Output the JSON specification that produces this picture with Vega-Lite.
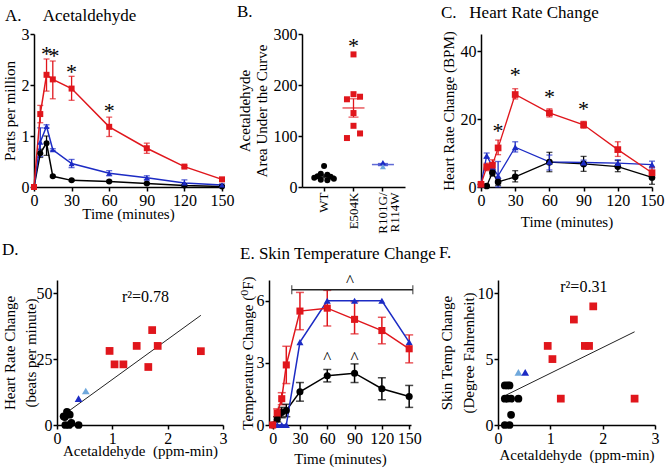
{
  "$schema": "https://vega.github.io/schema/vega-lite/v6.json",
  "padding": {"left": 2, "top": 3, "right": 2, "bottom": 2},
  "background": "white",
  "config": {
    "font": "Liberation Serif, Times New Roman, DejaVu Serif, serif",
    "view": {"stroke": null},
    "axis": {"grid": false, "labelFlush": false, "domainColor": "#000", "domainWidth": 1.5, "tickColor": "#000", "tickWidth": 1.5, "tickSize": 4, "labelFont": "Liberation Serif, Times New Roman, DejaVu Serif, serif", "labelFontSize": 16, "labelColor": "#000", "labelPadding": 1, "titleFont": "Liberation Serif, Times New Roman, DejaVu Serif, serif", "titleFontSize": 15, "titleFontWeight": 400, "titleColor": "#000", "titlePadding": 4},
    "title": {"font": "Liberation Serif, Times New Roman, DejaVu Serif, serif", "fontSize": 17, "fontWeight": 400, "color": "#000", "anchor": "start", "frame": "bounds"},
    "text": {"font": "Liberation Serif, Times New Roman, DejaVu Serif, serif"}
  },
  "datasets": {
    "acet": [
      {"grp": "WT", "t": 0, "y": 0, "lo": 0, "hi": 0},
      {"grp": "WT", "t": 5, "y": 0.66, "lo": 0.58, "hi": 0.74},
      {"grp": "WT", "t": 10, "y": 0.86, "lo": 0.62, "hi": 1.0},
      {"grp": "WT", "t": 15, "y": 0.21, "lo": 0.19, "hi": 0.23},
      {"grp": "WT", "t": 30, "y": 0.13, "lo": 0.11, "hi": 0.15},
      {"grp": "WT", "t": 60, "y": 0.11, "lo": 0.09, "hi": 0.13},
      {"grp": "WT", "t": 90, "y": 0.07, "lo": 0.05, "hi": 0.09},
      {"grp": "WT", "t": 120, "y": 0.03, "lo": 0.02, "hi": 0.04},
      {"grp": "WT", "t": 150, "y": 0.01, "lo": 0.0, "hi": 0.02},
      {"grp": "R101G/R114W", "t": 0, "y": 0, "lo": 0, "hi": 0},
      {"grp": "R101G/R114W", "t": 5, "y": 0.88, "lo": 0.6, "hi": 1.16},
      {"grp": "R101G/R114W", "t": 10, "y": 1.19, "lo": 1.16, "hi": 1.22},
      {"grp": "R101G/R114W", "t": 15, "y": 0.73, "lo": 0.71, "hi": 0.75},
      {"grp": "R101G/R114W", "t": 30, "y": 0.46, "lo": 0.38, "hi": 0.54},
      {"grp": "R101G/R114W", "t": 60, "y": 0.27, "lo": 0.22, "hi": 0.32},
      {"grp": "R101G/R114W", "t": 90, "y": 0.18, "lo": 0.14, "hi": 0.22},
      {"grp": "R101G/R114W", "t": 120, "y": 0.08, "lo": 0.02, "hi": 0.14},
      {"grp": "R101G/R114W", "t": 150, "y": 0.04, "lo": 0.02, "hi": 0.06},
      {"grp": "E504K", "t": 0, "y": 0, "lo": 0, "hi": 0},
      {"grp": "E504K", "t": 5, "y": 1.43, "lo": 1.26, "hi": 1.6},
      {"grp": "E504K", "t": 10, "y": 2.2, "lo": 1.88, "hi": 2.51},
      {"grp": "E504K", "t": 15, "y": 2.11, "lo": 1.73, "hi": 2.47},
      {"grp": "E504K", "t": 30, "y": 1.93, "lo": 1.7, "hi": 2.17},
      {"grp": "E504K", "t": 60, "y": 1.18, "lo": 0.99, "hi": 1.37},
      {"grp": "E504K", "t": 90, "y": 0.76, "lo": 0.66, "hi": 0.86},
      {"grp": "E504K", "t": 120, "y": 0.4, "lo": 0.38, "hi": 0.42},
      {"grp": "E504K", "t": 150, "y": 0.15, "lo": 0.13, "hi": 0.17}
    ],
    "hr": [
      {"grp": "WT", "t": 0, "y": 0.8, "lo": 0.5, "hi": 1.1},
      {"grp": "WT", "t": 5, "y": 0.3, "lo": 0.0, "hi": 0.6},
      {"grp": "WT", "t": 10, "y": 4.2, "lo": 3.2, "hi": 5.2},
      {"grp": "WT", "t": 15, "y": 1.5, "lo": 0.5, "hi": 2.5},
      {"grp": "WT", "t": 30, "y": 3.0, "lo": 1.5, "hi": 4.8},
      {"grp": "WT", "t": 60, "y": 7.3, "lo": 4.5, "hi": 10.2},
      {"grp": "WT", "t": 90, "y": 6.8, "lo": 4.6, "hi": 9.0},
      {"grp": "WT", "t": 120, "y": 6.0, "lo": 4.5, "hi": 7.8},
      {"grp": "WT", "t": 150, "y": 2.8, "lo": 0.8, "hi": 4.8},
      {"grp": "R101G/R114W", "t": 0, "y": 0.8, "lo": 0.8, "hi": 0.8},
      {"grp": "R101G/R114W", "t": 5, "y": 9.2, "lo": 8.5, "hi": 10.0},
      {"grp": "R101G/R114W", "t": 10, "y": 6.0, "lo": 5.0, "hi": 7.0},
      {"grp": "R101G/R114W", "t": 15, "y": 3.3, "lo": 0.0, "hi": 7.5},
      {"grp": "R101G/R114W", "t": 30, "y": 11.7, "lo": 10.3, "hi": 13.3},
      {"grp": "R101G/R114W", "t": 60, "y": 7.4, "lo": 5.0, "hi": 9.4},
      {"grp": "R101G/R114W", "t": 90, "y": 7.2, "lo": 6.5, "hi": 7.9},
      {"grp": "R101G/R114W", "t": 120, "y": 7.0, "lo": 6.0, "hi": 8.0},
      {"grp": "R101G/R114W", "t": 150, "y": 6.6, "lo": 5.6, "hi": 7.6},
      {"grp": "E504K", "t": 0, "y": 0.8, "lo": 0.8, "hi": 0.8},
      {"grp": "E504K", "t": 5, "y": 5.9, "lo": 4.8, "hi": 7.0},
      {"grp": "E504K", "t": 10, "y": 6.4, "lo": 5.0, "hi": 8.0},
      {"grp": "E504K", "t": 15, "y": 11.5, "lo": 9.5, "hi": 13.8},
      {"grp": "E504K", "t": 30, "y": 27.2, "lo": 25.9, "hi": 28.9},
      {"grp": "E504K", "t": 60, "y": 21.8, "lo": 20.6, "hi": 23.0},
      {"grp": "E504K", "t": 90, "y": 18.3, "lo": 17.3, "hi": 19.3},
      {"grp": "E504K", "t": 120, "y": 11.0, "lo": 9.0, "hi": 13.3},
      {"grp": "E504K", "t": 150, "y": 4.2, "lo": 2.4, "hi": 5.8}
    ],
    "temp": [
      {"grp": "WT", "t": 0, "y": 0, "lo": 0, "hi": 0},
      {"grp": "WT", "t": 5, "y": 0.28, "lo": 0.15, "hi": 0.4},
      {"grp": "WT", "t": 10, "y": 0.6, "lo": 0.35, "hi": 0.85},
      {"grp": "WT", "t": 15, "y": 0.7, "lo": 0.4, "hi": 1.0},
      {"grp": "WT", "t": 30, "y": 1.6, "lo": 1.15, "hi": 2.05},
      {"grp": "WT", "t": 60, "y": 2.38, "lo": 2.08, "hi": 2.68},
      {"grp": "WT", "t": 90, "y": 2.5, "lo": 2.05, "hi": 2.95},
      {"grp": "WT", "t": 120, "y": 1.75, "lo": 1.22, "hi": 2.28},
      {"grp": "WT", "t": 150, "y": 1.38, "lo": 0.85, "hi": 1.91},
      {"grp": "R101G/R114W", "t": 0, "y": 0, "lo": 0, "hi": 0},
      {"grp": "R101G/R114W", "t": 5, "y": 0, "lo": 0, "hi": 0},
      {"grp": "R101G/R114W", "t": 10, "y": 0, "lo": 0, "hi": 0},
      {"grp": "R101G/R114W", "t": 15, "y": 0, "lo": 0, "hi": 0},
      {"grp": "R101G/R114W", "t": 30, "y": 4, "lo": 4, "hi": 4},
      {"grp": "R101G/R114W", "t": 60, "y": 6, "lo": 6, "hi": 6},
      {"grp": "R101G/R114W", "t": 90, "y": 6, "lo": 6, "hi": 6},
      {"grp": "R101G/R114W", "t": 120, "y": 6, "lo": 6, "hi": 6},
      {"grp": "R101G/R114W", "t": 150, "y": 4, "lo": 4, "hi": 4},
      {"grp": "E504K", "t": 0, "y": 0, "lo": 0, "hi": 0},
      {"grp": "E504K", "t": 5, "y": 0.58, "lo": 0.4, "hi": 0.78},
      {"grp": "E504K", "t": 10, "y": 1.27, "lo": 0.98, "hi": 1.56},
      {"grp": "E504K", "t": 15, "y": 2.9, "lo": 2.0, "hi": 3.8},
      {"grp": "E504K", "t": 30, "y": 5.5, "lo": 4.6, "hi": 6.4},
      {"grp": "E504K", "t": 60, "y": 5.64, "lo": 4.78, "hi": 6.5},
      {"grp": "E504K", "t": 90, "y": 5.1, "lo": 4.4, "hi": 5.95},
      {"grp": "E504K", "t": 120, "y": 4.56, "lo": 3.92, "hi": 5.2},
      {"grp": "E504K", "t": 150, "y": 3.68, "lo": 3.0, "hi": 4.35}
    ],
    "auc": [
      {"genotype": "WT", "grp": "WT", "rep": 5, "v": 41},
      {"genotype": "WT", "grp": "WT", "rep": 4, "v": 26},
      {"genotype": "WT", "grp": "WT", "rep": 6, "v": 24},
      {"genotype": "WT", "grp": "WT", "rep": 3, "v": 21},
      {"genotype": "WT", "grp": "WT", "rep": 7, "v": 20},
      {"genotype": "WT", "grp": "WT", "rep": 2, "v": 18},
      {"genotype": "WT", "grp": "WT", "rep": 8, "v": 16},
      {"genotype": "WT", "grp": "WT", "rep": 4, "v": 14},
      {"genotype": "WT", "grp": "WT", "rep": 6, "v": 13},
      {"genotype": "E504K", "grp": "E504K", "rep": 5, "v": 260},
      {"genotype": "E504K", "grp": "E504K", "rep": 5, "v": 182},
      {"genotype": "E504K", "grp": "E504K", "rep": 7, "v": 177},
      {"genotype": "E504K", "grp": "E504K", "rep": 3, "v": 172},
      {"genotype": "E504K", "grp": "E504K", "rep": 5, "v": 145},
      {"genotype": "E504K", "grp": "E504K", "rep": 5, "v": 120},
      {"genotype": "E504K", "grp": "E504K", "rep": 3, "v": 96},
      {"genotype": "E504K", "grp": "E504K", "rep": 7, "v": 105},
      {"genotype": "R101G/R114W", "grp": "R101G", "rep": 5, "v": 48},
      {"genotype": "R101G/R114W", "grp": "R114W", "rep": 5, "v": 40}
    ],
    "aucsum": [
      {"genotype": "WT", "grp": "WT", "mean": 21, "lo": 18, "hi": 24},
      {"genotype": "E504K", "grp": "E504K", "mean": 155, "lo": 137, "hi": 173},
      {"genotype": "R101G/R114W", "grp": "R101G/R114W", "mean": 44, "lo": 42, "hi": 46}
    ],
    "hrsc": [
      {"grp": "E504K", "x": 0.95, "y": 28.1},
      {"grp": "E504K", "x": 1.04, "y": 23},
      {"grp": "E504K", "x": 1.2, "y": 23},
      {"grp": "E504K", "x": 1.44, "y": 30},
      {"grp": "E504K", "x": 1.65, "y": 22},
      {"grp": "E504K", "x": 1.72, "y": 36},
      {"grp": "E504K", "x": 1.82, "y": 30},
      {"grp": "E504K", "x": 2.6, "y": 28},
      {"grp": "R101G", "x": 0.39, "y": 10},
      {"grp": "R114W", "x": 0.52, "y": 12.9},
      {"grp": "WT", "x": 0.12, "y": 3.3},
      {"grp": "WT", "x": 0.18, "y": 5},
      {"grp": "WT", "x": 0.23, "y": 3.9},
      {"grp": "WT", "x": 0.15, "y": 0},
      {"grp": "WT", "x": 0.22, "y": 0},
      {"grp": "WT", "x": 0.26, "y": 0.8},
      {"grp": "WT", "x": 0.39, "y": 0},
      {"grp": "WT", "x": 0.14, "y": 3.0}
    ],
    "tempsc": [
      {"grp": "E504K", "x": 0.95, "y": 6},
      {"grp": "E504K", "x": 1.04, "y": 5},
      {"grp": "E504K", "x": 1.2, "y": 2},
      {"grp": "E504K", "x": 1.45, "y": 8},
      {"grp": "E504K", "x": 1.66, "y": 6},
      {"grp": "E504K", "x": 1.74, "y": 6},
      {"grp": "E504K", "x": 1.82, "y": 9},
      {"grp": "E504K", "x": 2.61, "y": 2},
      {"grp": "R114W", "x": 0.39, "y": 4},
      {"grp": "R101G", "x": 0.52, "y": 4},
      {"grp": "WT", "x": 0.13, "y": 3},
      {"grp": "WT", "x": 0.18, "y": 3},
      {"grp": "WT", "x": 0.22, "y": 3},
      {"grp": "WT", "x": 0.13, "y": 2},
      {"grp": "WT", "x": 0.19, "y": 2},
      {"grp": "WT", "x": 0.25, "y": 2},
      {"grp": "WT", "x": 0.39, "y": 2},
      {"grp": "WT", "x": 0.25, "y": 0.77},
      {"grp": "WT", "x": 0.13, "y": 0},
      {"grp": "WT", "x": 0.22, "y": 0}
    ]
  },
  "spacing": 7,
  "vconcat": [
    {
      "spacing": 3,
      "hconcat": [
        {
          "width": 188, "height": 153,
          "title": {"text": "A.\u00a0\u00a0\u00a0\u00a0\u00a0Acetaldehyde", "offset": 1, "frame": "group", "dx": -29},
          "data": {"name": "acet"},
          "encoding": {
            "x": {"field": "t", "type": "quantitative", "title": "Time (minutes)", "scale": {"domain": [0, 150]}, "axis": {"values": [0, 30, 60, 90, 120, 150], "format": "d", "titlePadding": -2}},
            "color": {"field": "grp", "type": "nominal", "scale": {"domain": ["WT", "E504K", "R101G/R114W", "R101G", "R114W"], "range": ["#000000", "#e0161c", "#1c2bc4", "#1c2bc4", "#6fa8dc"]}, "legend": null}
          },
          "layer": [
            {"transform": [{"filter": "datum.hi > datum.lo"}], "mark": {"type": "rule", "strokeWidth": 1.3}, "encoding": {"y": {"field": "lo", "type": "quantitative", "title": "Parts per million", "scale": {"domain": [0, 3]}, "axis": {"values": [0, 1, 2, 3], "format": "d"}}, "y2": {"field": "hi"}}},
            {"transform": [{"filter": "datum.hi > datum.lo"}], "mark": {"type": "tick", "orient": "horizontal", "size": 6, "thickness": 1.3}, "encoding": {"y": {"field": "lo", "type": "quantitative", "title": "Parts per million"}}},
            {"transform": [{"filter": "datum.hi > datum.lo"}], "mark": {"type": "tick", "orient": "horizontal", "size": 6, "thickness": 1.3}, "encoding": {"y": {"field": "hi", "type": "quantitative", "title": "Parts per million"}}},
            {"mark": {"type": "line", "strokeWidth": 1.5}, "encoding": {"y": {"field": "y", "type": "quantitative", "title": "Parts per million"}}},
            {"mark": {"type": "point", "filled": true, "size": 36, "opacity": 1}, "encoding": {"y": {"field": "y", "type": "quantitative", "title": "Parts per million"}, "shape": {"field": "grp", "type": "nominal", "scale": {"domain": ["WT", "E504K", "R101G/R114W", "R101G", "R114W"], "range": ["circle", "square", "triangle-up", "triangle-up", "triangle-up"]}, "legend": null}}},
            {"data": {"values": [{"t": 10, "y": 2.6}, {"t": 16, "y": 2.56}, {"t": 30, "y": 2.26}, {"t": 60, "y": 1.5}]}, "mark": {"type": "text", "text": "*", "fontSize": 22, "baseline": "middle"}, "encoding": {"y": {"field": "y", "type": "quantitative", "title": "Parts per million"}, "color": {"value": "#000"}}}
          ]
        },
        {
          "spacing": 35,
          "hconcat": [
            {
              "width": 103, "height": 153,
              "title": {"text": "B.", "offset": 5},
              "layer": [
                {"data": {"name": "aucsum"}, "mark": {"type": "tick", "orient": "horizontal", "size": 22, "thickness": 1.5}, "encoding": {
                  "x": {"field": "genotype", "type": "nominal", "scale": {"domain": ["WT", "E504K", "R101G/R114W"], "paddingInner": 0, "paddingOuter": 0.25}, "axis": {"title": null, "labelAngle": -90, "labelFontSize": 13, "labelExpr": "datum.label == 'R101G/R114W' ? ['R101G/', 'R114W'] : datum.label", "labelLineHeight": 12}},
                  "y": {"field": "mean", "type": "quantitative", "title": ["Acetaldehyde", "Area Under the Curve"], "scale": {"domain": [0, 300]}, "axis": {"values": [0, 100, 200, 300], "format": "d", "titleLineHeight": 17}},
                  "color": {"field": "grp", "type": "nominal", "legend": null}}},
                {"data": {"name": "aucsum"}, "mark": {"type": "rule", "strokeWidth": 1.3}, "encoding": {
                  "x": {"field": "genotype", "type": "nominal"},
                  "y": {"field": "lo", "type": "quantitative", "title": ["Acetaldehyde", "Area Under the Curve"]}, "y2": {"field": "hi"},
                  "color": {"field": "grp", "type": "nominal", "legend": null}}},
                {"data": {"name": "aucsum"}, "mark": {"type": "tick", "orient": "horizontal", "size": 10, "thickness": 1.3}, "encoding": {
                  "x": {"field": "genotype", "type": "nominal"},
                  "y": {"field": "lo", "type": "quantitative", "title": ["Acetaldehyde", "Area Under the Curve"]},
                  "color": {"field": "grp", "type": "nominal", "legend": null}}},
                {"data": {"name": "aucsum"}, "mark": {"type": "tick", "orient": "horizontal", "size": 10, "thickness": 1.3}, "encoding": {
                  "x": {"field": "genotype", "type": "nominal"},
                  "y": {"field": "hi", "type": "quantitative", "title": ["Acetaldehyde", "Area Under the Curve"]},
                  "color": {"field": "grp", "type": "nominal", "legend": null}}},
                {"data": {"name": "auc"}, "mark": {"type": "point", "filled": true, "size": 36, "opacity": 1}, "encoding": {
                  "x": {"field": "genotype", "type": "nominal"},
                  "xOffset": {"field": "rep", "type": "nominal", "scale": {"domain": [1, 2, 3, 4, 5, 6, 7, 8, 9]}},
                  "y": {"field": "v", "type": "quantitative", "title": ["Acetaldehyde", "Area Under the Curve"]},
                  "color": {"field": "grp", "type": "nominal", "legend": null},
                  "shape": {"field": "grp", "type": "nominal", "legend": null}}},
                {"data": {"values": [{"genotype": "E504K", "v": 277}]}, "mark": {"type": "text", "text": "*", "fontSize": 22, "baseline": "middle"}, "encoding": {
                  "x": {"field": "genotype", "type": "nominal"},
                  "y": {"field": "v", "type": "quantitative", "title": ["Acetaldehyde", "Area Under the Curve"]},
                  "color": {"value": "#000"}}}
              ]
            },
            {
              "width": 171, "height": 153,
              "title": {"text": "C.\u00a0\u00a0\u00a0Heart Rate Change", "offset": 9},
              "data": {"name": "hr"},
              "encoding": {
                "x": {"field": "t", "type": "quantitative", "title": "Time (minutes)", "scale": {"domain": [0, 150]}, "axis": {"values": [0, 30, 60, 90, 120, 150], "format": "d", "titlePadding": 6}},
                "color": {"field": "grp", "type": "nominal", "legend": null}
              },
              "layer": [
                {"transform": [{"filter": "datum.hi > datum.lo"}], "mark": {"type": "rule", "strokeWidth": 1.3}, "encoding": {"y": {"field": "lo", "type": "quantitative", "title": "Heart Rate Change (BPM)", "scale": {"domain": [0, 42.8]}, "axis": {"values": [0, 20, 40], "format": "d"}}, "y2": {"field": "hi"}}},
                {"transform": [{"filter": "datum.hi > datum.lo"}], "mark": {"type": "tick", "orient": "horizontal", "size": 6, "thickness": 1.3}, "encoding": {"y": {"field": "lo", "type": "quantitative", "title": "Heart Rate Change (BPM)"}}},
                {"transform": [{"filter": "datum.hi > datum.lo"}], "mark": {"type": "tick", "orient": "horizontal", "size": 6, "thickness": 1.3}, "encoding": {"y": {"field": "hi", "type": "quantitative", "title": "Heart Rate Change (BPM)"}}},
                {"mark": {"type": "line", "strokeWidth": 1.3}, "encoding": {"y": {"field": "y", "type": "quantitative", "title": "Heart Rate Change (BPM)"}}},
                {"mark": {"type": "point", "filled": true, "size": 45, "opacity": 1}, "encoding": {"y": {"field": "y", "type": "quantitative", "title": "Heart Rate Change (BPM)"}, "shape": {"field": "grp", "type": "nominal", "legend": null}}},
                {"data": {"values": [{"t": 15, "y": 16.4}, {"t": 30, "y": 32.8}, {"t": 60, "y": 26.6}, {"t": 90, "y": 23}]}, "mark": {"type": "text", "text": "*", "fontSize": 22, "baseline": "middle"}, "encoding": {"y": {"field": "y", "type": "quantitative", "title": "Heart Rate Change (BPM)"}, "color": {"value": "#000"}}}
              ]
            }
          ]
        }
      ]
    },
    {
      "spacing": -33,
      "hconcat": [
        {"width": 1, "height": 1, "data": {"values": []}, "mark": "point"},
        {
          "spacing": 12,
          "hconcat": [
            {
              "width": 166, "height": 145,
              "title": {"text": "D.", "offset": 21},
              "layer": [
                {"data": {"values": [{"x": 0.18, "y": 4.8}, {"x": 2.6, "y": 41.6}]}, "mark": {"type": "line", "strokeWidth": 1, "color": "#222"}, "encoding": {
                  "x": {"field": "x", "type": "quantitative", "title": "Acetaldehyde\u00a0\u00a0(ppm-min)", "scale": {"domain": [0, 3]}, "axis": {"values": [0, 1, 2, 3], "format": "d", "titlePadding": -3}},
                  "y": {"field": "y", "type": "quantitative", "title": ["Heart Rate Change", "(beats per minute)"], "scale": {"domain": [0, 52.5]}, "axis": {"values": [0, 25, 50], "format": "d", "titleLineHeight": 21, "titlePadding": -2}}}},
                {"data": {"name": "hrsc"}, "mark": {"type": "point", "filled": true, "size": 60, "opacity": 1}, "encoding": {
                  "x": {"field": "x", "type": "quantitative", "title": "Acetaldehyde\u00a0\u00a0(ppm-min)"},
                  "y": {"field": "y", "type": "quantitative", "title": ["Heart Rate Change", "(beats per minute)"]},
                  "color": {"field": "grp", "type": "nominal", "legend": null},
                  "shape": {"field": "grp", "type": "nominal", "legend": null}}},
                {"data": {"values": [{"x": 1.6, "y": 48.5, "label": "r²=0.78"}]}, "mark": {"type": "text", "fontSize": 16, "baseline": "middle", "color": "#000"}, "encoding": {
                  "x": {"field": "x", "type": "quantitative", "title": "Acetaldehyde\u00a0\u00a0(ppm-min)"},
                  "y": {"field": "y", "type": "quantitative", "title": ["Heart Rate Change", "(beats per minute)"]},
                  "text": {"field": "label"}}}
              ]
            },
            {
              "spacing": 1,
              "hconcat": [
                {
                  "width": 142, "height": 145,
                  "title": {"text": "E. Skin Temperature Change", "offset": 9},
                  "encoding": {
                    "x": {"field": "t", "type": "quantitative", "title": "Time (minutes)", "scale": {"domain": [-4, 152]}, "axis": {"values": [0, 30, 60, 90, 120, 150], "format": "d", "titlePadding": 5}}
                  },
                  "layer": [
                    {"data": {"name": "temp"}, "transform": [{"filter": "datum.hi > datum.lo"}], "mark": {"type": "rule", "strokeWidth": 1.5}, "encoding": {"y": {"field": "lo", "type": "quantitative", "title": "Temperature Change (⁰F)", "scale": {"domain": [0, 6.6]}, "axis": {"values": [0, 3, 6], "format": "d", "titlePadding": 1}}, "y2": {"field": "hi"}, "color": {"field": "grp", "type": "nominal", "legend": null}}},
                    {"data": {"name": "temp"}, "transform": [{"filter": "datum.hi > datum.lo"}], "mark": {"type": "tick", "orient": "horizontal", "size": 8, "thickness": 1.5}, "encoding": {"y": {"field": "lo", "type": "quantitative", "title": "Temperature Change (⁰F)"}, "color": {"field": "grp", "type": "nominal", "legend": null}}},
                    {"data": {"name": "temp"}, "transform": [{"filter": "datum.hi > datum.lo"}], "mark": {"type": "tick", "orient": "horizontal", "size": 8, "thickness": 1.5}, "encoding": {"y": {"field": "hi", "type": "quantitative", "title": "Temperature Change (⁰F)"}, "color": {"field": "grp", "type": "nominal", "legend": null}}},
                    {"data": {"name": "temp"}, "mark": {"type": "line", "strokeWidth": 1.5}, "encoding": {"y": {"field": "y", "type": "quantitative", "title": "Temperature Change (⁰F)"}, "color": {"field": "grp", "type": "nominal", "legend": null}}},
                    {"data": {"name": "temp"}, "mark": {"type": "point", "filled": true, "size": 50, "opacity": 1}, "encoding": {"y": {"field": "y", "type": "quantitative", "title": "Temperature Change (⁰F)"}, "color": {"field": "grp", "type": "nominal", "legend": null}, "shape": {"field": "grp", "type": "nominal", "legend": null}}},
                    {"data": {"values": [{"t": 21, "t2": 154, "y": 6.53}]}, "mark": {"type": "rule", "strokeWidth": 1.3, "color": "#222"}, "encoding": {"x2": {"field": "t2"}, "y": {"field": "y", "type": "quantitative", "title": "Temperature Change (⁰F)"}}},
                    {"data": {"values": [{"t": 21, "y": 6.53}, {"t": 154, "y": 6.53}]}, "mark": {"type": "tick", "orient": "vertical", "size": 9, "thickness": 1.3, "color": "#222"}, "encoding": {"y": {"field": "y", "type": "quantitative", "title": "Temperature Change (⁰F)"}}},
                    {"data": {"values": [{"t": 60, "y": 3.25}, {"t": 90, "y": 3.25}, {"t": 85, "y": 6.95}]}, "mark": {"type": "text", "text": "^", "fontSize": 17, "baseline": "middle", "color": "#000"}, "encoding": {"y": {"field": "y", "type": "quantitative", "title": "Temperature Change (⁰F)"}}}
                  ]
                },
                {
                  "width": 157, "height": 145,
                  "title": {"text": "F.", "offset": 17},
                  "layer": [
                    {"data": {"values": [{"x": 0.13, "y": 2.22}, {"x": 2.61, "y": 7.07}]}, "mark": {"type": "line", "strokeWidth": 1, "color": "#222"}, "encoding": {
                      "x": {"field": "x", "type": "quantitative", "title": "Acetaldehyde\u00a0\u00a0(ppm-min)", "scale": {"domain": [0, 3]}, "axis": {"values": [0, 1, 2, 3], "format": "d", "titlePadding": 1}},
                      "y": {"field": "y", "type": "quantitative", "title": ["Skin Temp Change", "(Degree Fahrenheit)"], "scale": {"domain": [0, 10.2]}, "axis": {"values": [0, 5, 10], "format": "d", "titleLineHeight": 22, "titlePadding": 1}}}},
                    {"data": {"name": "tempsc"}, "mark": {"type": "point", "filled": true, "size": 60, "opacity": 1}, "encoding": {
                      "x": {"field": "x", "type": "quantitative", "title": "Acetaldehyde\u00a0\u00a0(ppm-min)"},
                      "y": {"field": "y", "type": "quantitative", "title": ["Skin Temp Change", "(Degree Fahrenheit)"]},
                      "color": {"field": "grp", "type": "nominal", "legend": null},
                      "shape": {"field": "grp", "type": "nominal", "legend": null}}},
                    {"data": {"values": [{"x": 1.64, "y": 10.5, "label": "r²=0.31"}]}, "mark": {"type": "text", "fontSize": 16, "baseline": "middle", "color": "#000"}, "encoding": {
                      "x": {"field": "x", "type": "quantitative", "title": "Acetaldehyde\u00a0\u00a0(ppm-min)"},
                      "y": {"field": "y", "type": "quantitative", "title": ["Skin Temp Change", "(Degree Fahrenheit)"]},
                      "text": {"field": "label"}}}
                  ]
                }
              ]
            }
          ]
        }
      ]
    }
  ]
}
